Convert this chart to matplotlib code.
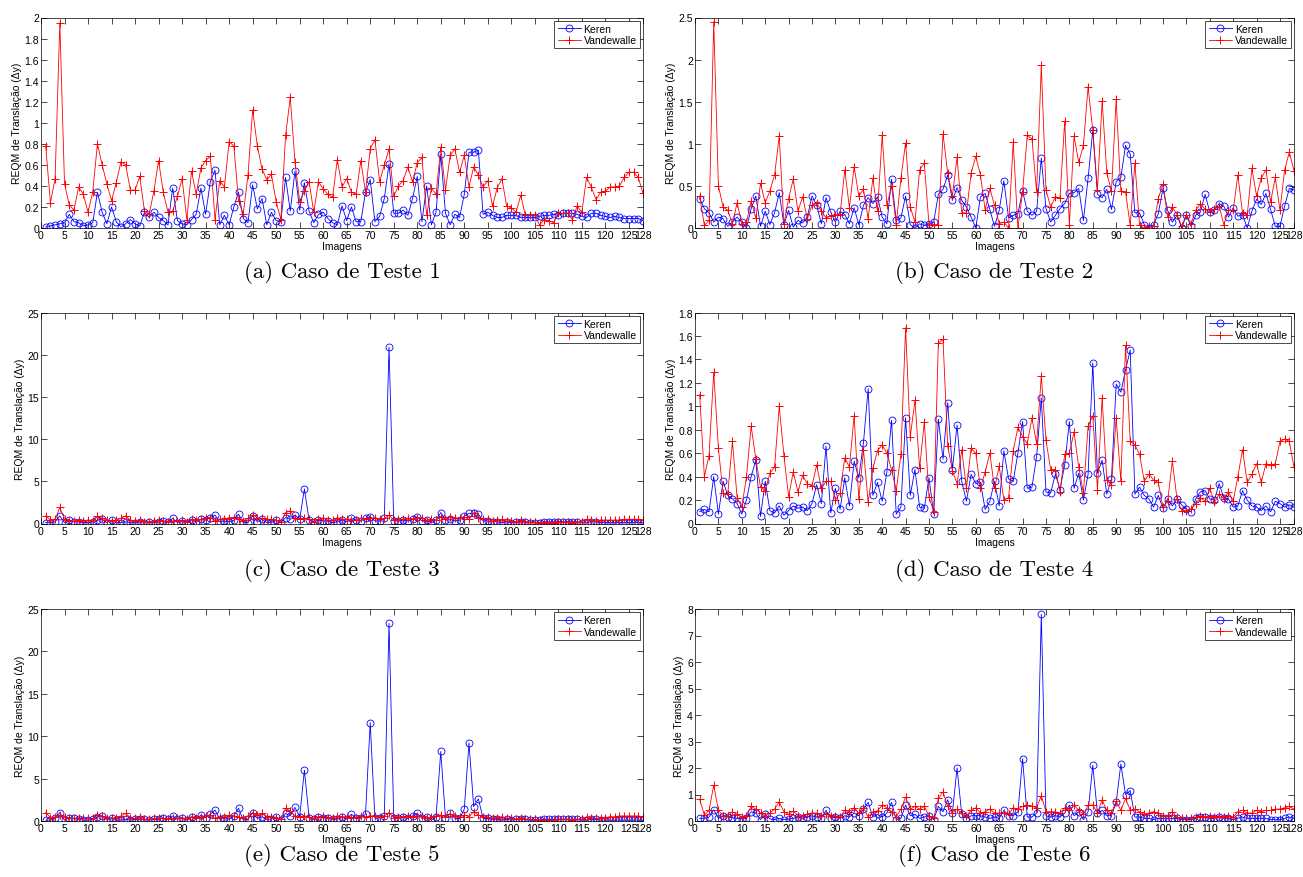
"""
REQM de Translação (Δy) - Keren vs Vandewalle, seis casos de teste.
"""

import matplotlib
matplotlib.use("Agg")
import matplotlib.pyplot as plt
from matplotlib.ticker import FormatStrFormatter


OUTPUT_FILE = "out.png"

IMAGENS = list(range(1, 129))
X_TICKS = list(range(0, 126, 5)) + [128]

CAPTIONS = ["(a) Caso de Teste 1", "(b) Caso de Teste 2", "(c) Caso de Teste 3",
            "(d) Caso de Teste 4", "(e) Caso de Teste 5", "(f) Caso de Teste 6"]

Y_LIMITS = [2, 2.5, 25, 1.8, 25, 8]
Y_STEPS = [0.2, 0.5, 5, 0.2, 5, 1]

# Caso de Teste 1
keren_1 = [
    0.01, 0.02, 0.03, 0.04, 0.05, 0.13, 0.06, 0.05, 0.02, 0.03,
    0.05, 0.34, 0.15, 0.04, 0.20, 0.06, 0.01, 0.04, 0.08, 0.04,
    0.02, 0.15, 0.10, 0.15, 0.10, 0.07, 0.03, 0.38, 0.07, 0.04,
    0.03, 0.08, 0.13, 0.38, 0.13, 0.44, 0.55, 0.03, 0.12, 0.03,
    0.20, 0.34, 0.09, 0.05, 0.41, 0.18, 0.28, 0.03, 0.15, 0.07,
    0.06, 0.48, 0.16, 0.54, 0.17, 0.43, 0.16, 0.05, 0.13, 0.15,
    0.09, 0.05, 0.03, 0.21, 0.07, 0.20, 0.06, 0.06, 0.34, 0.46,
    0.06, 0.11, 0.28, 0.61, 0.14, 0.14, 0.17, 0.12, 0.28, 0.49,
    0.06, 0.40, 0.03, 0.15, 0.70, 0.14, 0.03, 0.13, 0.10, 0.32,
    0.72, 0.72, 0.74, 0.13, 0.15, 0.12, 0.10, 0.10, 0.12, 0.12,
    0.12, 0.10, 0.10, 0.10, 0.10, 0.11, 0.12, 0.12, 0.13, 0.12,
    0.14, 0.14, 0.14, 0.13, 0.11, 0.10, 0.14, 0.14, 0.12, 0.11,
    0.10, 0.11, 0.10, 0.09, 0.09, 0.09, 0.09, 0.07,
]
vandewalle_1 = [
    0.78, 0.24, 0.47, 1.95, 0.42, 0.22, 0.17, 0.39, 0.32, 0.15,
    0.34, 0.80, 0.60, 0.42, 0.26, 0.43, 0.63, 0.60, 0.36, 0.36,
    0.49, 0.16, 0.13, 0.35, 0.64, 0.34, 0.15, 0.16, 0.30, 0.47,
    0.08, 0.54, 0.32, 0.57, 0.64, 0.68, 0.08, 0.45, 0.39, 0.82,
    0.78, 0.26, 0.13, 0.50, 1.12, 0.78, 0.56, 0.46, 0.51, 0.25,
    0.08, 0.88, 1.24, 0.63, 0.25, 0.35, 0.44, 0.15, 0.44, 0.37,
    0.32, 0.29, 0.65, 0.39, 0.47, 0.34, 0.32, 0.64, 0.34, 0.75,
    0.84, 0.44, 0.60, 0.75, 0.30, 0.40, 0.45, 0.58, 0.44, 0.62,
    0.67, 0.12, 0.38, 0.32, 0.77, 0.36, 0.69, 0.75, 0.53, 0.69,
    0.39, 0.58, 0.50, 0.39, 0.45, 0.21, 0.38, 0.47, 0.21, 0.19,
    0.15, 0.31, 0.12, 0.12, 0.12, 0.03, 0.08, 0.07, 0.05, 0.14,
    0.14, 0.14, 0.08, 0.21, 0.15, 0.48, 0.39, 0.27, 0.34, 0.35,
    0.39, 0.39, 0.40, 0.48, 0.53, 0.53, 0.48, 0.33,
]

# Caso de Teste 2
keren_2 = [
    0.35, 0.23, 0.18, 0.07, 0.13, 0.11, 0.02, 0.07, 0.13, 0.07,
    0.00, 0.23, 0.38, 0.02, 0.20, 0.04, 0.18, 0.42, 0.04, 0.21,
    0.01, 0.09, 0.06, 0.13, 0.38, 0.27, 0.05, 0.36, 0.19, 0.07,
    0.20, 0.16, 0.05, 0.24, 0.04, 0.27, 0.36, 0.29, 0.37, 0.13,
    0.05, 0.58, 0.09, 0.12, 0.38, 0.04, 0.00, 0.05, 0.03, 0.05,
    0.07, 0.40, 0.46, 0.63, 0.33, 0.48, 0.33, 0.25, 0.13, 0.00,
    0.37, 0.41, 0.22, 0.02, 0.21, 0.56, 0.12, 0.15, 0.17, 0.44,
    0.20, 0.15, 0.20, 0.83, 0.23, 0.07, 0.15, 0.23, 0.29, 0.41,
    0.42, 0.47, 0.09, 0.59, 1.16, 0.40, 0.36, 0.46, 0.22, 0.55,
    0.60, 0.98, 0.88, 0.18, 0.18, 0.04, 0.00, 0.04, 0.17, 0.47,
    0.21, 0.07, 0.15, 0.00, 0.15, 0.02, 0.15, 0.19, 0.40, 0.19,
    0.21, 0.29, 0.26, 0.13, 0.24, 0.14, 0.16, 0.00, 0.20, 0.34,
    0.28, 0.41, 0.22, 0.02, 0.02, 0.26, 0.47, 0.45,
]
vandewalle_2 = [
    0.38, 0.03, 0.09, 2.45, 0.50, 0.25, 0.21, 0.05, 0.30, 0.05,
    0.07, 0.32, 0.12, 0.53, 0.30, 0.44, 0.63, 1.09, 0.05, 0.35,
    0.58, 0.20, 0.37, 0.11, 0.27, 0.30, 0.20, 0.12, 0.14, 0.16,
    0.16, 0.69, 0.24, 0.73, 0.38, 0.46, 0.11, 0.59, 0.20, 1.10,
    0.27, 0.50, 0.04, 0.59, 1.01, 0.25, 0.07, 0.69, 0.77, 0.04,
    0.04, 0.04, 1.12, 0.65, 0.38, 0.84, 0.18, 0.18, 0.65, 0.85,
    0.63, 0.21, 0.47, 0.27, 0.05, 0.07, 0.00, 1.02, 0.00, 0.43,
    1.10, 1.06, 0.43, 1.93, 0.45, 0.25, 0.37, 0.36, 1.27, 0.04,
    1.09, 0.78, 0.98, 1.68, 1.16, 0.45, 1.51, 0.65, 0.44, 1.53,
    0.44, 0.43, 0.03, 0.77, 0.03, 0.00, 0.02, 0.02, 0.35, 0.52,
    0.13, 0.25, 0.16, 0.02, 0.16, 0.05, 0.21, 0.29, 0.22, 0.19,
    0.23, 0.26, 0.04, 0.21, 0.21, 0.63, 0.18, 0.15, 0.71, 0.38,
    0.59, 0.69, 0.31, 0.60, 0.21, 0.69, 0.90, 0.68,
]

# Caso de Teste 3
keren_3 = [
    0.1, 0.1, 0.2, 0.9, 0.1, 0.4, 0.2, 0.2, 0.1, 0.1,
    0.2, 0.4, 0.5, 0.1, 0.4, 0.1, 0.1, 0.2, 0.1, 0.1,
    0.2, 0.1, 0.2, 0.1, 0.2, 0.3, 0.2, 0.6, 0.1, 0.3,
    0.1, 0.4, 0.2, 0.5, 0.4, 0.7, 1.0, 0.2, 0.3, 0.2,
    0.4, 1.1, 0.1, 0.1, 0.9, 0.2, 0.5, 0.1, 0.1, 0.4,
    0.1, 0.7, 0.5, 1.0, 0.5, 4.1, 0.4, 0.2, 0.4, 0.3,
    0.3, 0.1, 0.2, 0.4, 0.2, 0.6, 0.4, 0.3, 0.6, 0.8,
    0.3, 0.3, 0.6, 20.9, 0.3, 0.3, 0.4, 0.3, 0.5, 0.8,
    0.3, 0.4, 0.1, 0.4, 1.3, 0.4, 0.5, 0.3, 0.4, 0.9,
    1.2, 1.2, 1.1, 0.3, 0.3, 0.2, 0.2, 0.1, 0.2, 0.1,
    0.2, 0.2, 0.2, 0.1, 0.1, 0.1, 0.2, 0.2, 0.2, 0.2,
    0.2, 0.2, 0.2, 0.2, 0.1, 0.1, 0.2, 0.2, 0.1, 0.1,
    0.1, 0.1, 0.1, 0.1, 0.1, 0.1, 0.1, 0.1,
]
vandewalle_3 = [
    0.9, 0.4, 0.5, 1.9, 0.5, 0.3, 0.3, 0.4, 0.3, 0.4,
    0.3, 0.9, 0.6, 0.4, 0.3, 0.4, 0.6, 0.9, 0.4, 0.3,
    0.4, 0.2, 0.2, 0.3, 0.4, 0.3, 0.2, 0.3, 0.3, 0.4,
    0.2, 0.5, 0.4, 0.5, 0.6, 0.7, 0.3, 0.5, 0.5, 0.7,
    0.7, 0.5, 0.3, 0.6, 1.0, 0.7, 0.6, 0.5, 0.5, 0.4,
    0.2, 1.3, 1.5, 0.7, 0.5, 0.6, 0.5, 0.2, 0.5, 0.6,
    0.4, 0.4, 0.7, 0.5, 0.5, 0.4, 0.4, 0.6, 0.5, 0.6,
    0.7, 0.5, 0.6, 1.0, 0.4, 0.5, 0.5, 0.6, 0.5, 0.7,
    0.7, 0.3, 0.5, 0.4, 0.8, 0.5, 0.8, 0.7, 0.6, 0.8,
    0.5, 1.2, 0.7, 0.5, 0.5, 0.3, 0.4, 0.5, 0.3, 0.3,
    0.2, 0.4, 0.2, 0.2, 0.2, 0.1, 0.1, 0.1, 0.1, 0.2,
    0.2, 0.2, 0.1, 0.2, 0.2, 0.5, 0.4, 0.3, 0.4, 0.4,
    0.4, 0.4, 0.4, 0.5, 0.5, 0.5, 0.5, 0.4,
]

# Caso de Teste 4
keren_4 = [
    0.10, 0.12, 0.10, 0.40, 0.08, 0.36, 0.24, 0.21, 0.17, 0.08,
    0.20, 0.40, 0.54, 0.06, 0.36, 0.11, 0.09, 0.15, 0.07, 0.11,
    0.15, 0.13, 0.14, 0.11, 0.17, 0.33, 0.17, 0.66, 0.09, 0.30,
    0.12, 0.39, 0.15, 0.53, 0.39, 0.69, 1.15, 0.24, 0.35, 0.19,
    0.44, 0.88, 0.08, 0.14, 0.90, 0.24, 0.46, 0.14, 0.13, 0.39,
    0.08, 0.89, 0.55, 1.03, 0.46, 0.84, 0.36, 0.19, 0.42, 0.34,
    0.35, 0.12, 0.19, 0.36, 0.15, 0.62, 0.38, 0.36, 0.60, 0.87,
    0.30, 0.31, 0.57, 1.07, 0.27, 0.26, 0.42, 0.29, 0.50, 0.87,
    0.30, 0.43, 0.20, 0.42, 1.37, 0.43, 0.54, 0.25, 0.38, 1.19,
    1.12, 1.31, 1.48, 0.25, 0.31, 0.24, 0.21, 0.14, 0.24, 0.13,
    0.21, 0.15, 0.21, 0.16, 0.12, 0.10, 0.21, 0.27, 0.28, 0.21,
    0.20, 0.34, 0.22, 0.21, 0.14, 0.15, 0.28, 0.20, 0.15, 0.14,
    0.11, 0.15, 0.10, 0.19, 0.17, 0.14, 0.16, 0.14,
]
vandewalle_4 = [
    1.10, 0.40, 0.58, 1.29, 0.64, 0.26, 0.25, 0.70, 0.22, 0.14,
    0.40, 0.83, 0.55, 0.31, 0.28, 0.43, 0.48, 1.00, 0.58, 0.23,
    0.44, 0.27, 0.41, 0.34, 0.32, 0.50, 0.30, 0.36, 0.36, 0.20,
    0.26, 0.56, 0.48, 0.92, 0.21, 0.63, 0.18, 0.47, 0.62, 0.67,
    0.60, 0.46, 0.28, 0.59, 1.67, 0.74, 1.05, 0.47, 0.87, 0.23,
    0.10, 1.54, 1.57, 0.66, 0.45, 0.34, 0.63, 0.30, 0.64, 0.60,
    0.30, 0.44, 0.60, 0.30, 0.49, 0.20, 0.22, 0.62, 0.82, 0.74,
    0.68, 0.90, 0.68, 1.26, 0.71, 0.46, 0.46, 0.27, 0.59, 0.60,
    0.78, 0.48, 0.26, 0.83, 0.92, 0.29, 1.07, 0.37, 0.33, 0.90,
    0.36, 1.52, 0.70, 0.67, 0.59, 0.36, 0.42, 0.37, 0.35, 0.14,
    0.19, 0.53, 0.21, 0.11, 0.11, 0.12, 0.17, 0.22, 0.19, 0.30,
    0.18, 0.25, 0.21, 0.27, 0.19, 0.40, 0.63, 0.35, 0.42, 0.51,
    0.35, 0.51, 0.50, 0.51, 0.70, 0.72, 0.70, 0.48,
]

# Caso de Teste 5
keren_5 = [
    0.1, 0.1, 0.3, 1.0, 0.1, 0.4, 0.3, 0.2, 0.1, 0.1,
    0.2, 0.5, 0.6, 0.1, 0.4, 0.1, 0.1, 0.2, 0.1, 0.2,
    0.2, 0.2, 0.1, 0.2, 0.2, 0.3, 0.2, 0.6, 0.2, 0.4,
    0.1, 0.5, 0.2, 0.7, 0.4, 0.8, 1.3, 0.2, 0.4, 0.2,
    0.6, 1.5, 0.1, 0.2, 1.0, 0.3, 0.5, 0.2, 0.2, 0.5,
    0.1, 0.9, 0.6, 1.6, 0.5, 6.0, 0.4, 0.2, 0.5, 0.4,
    0.4, 0.2, 0.2, 0.5, 0.2, 0.8, 0.4, 0.4, 0.8, 11.6,
    0.3, 0.4, 0.6, 23.3, 0.4, 0.3, 0.5, 0.3, 0.6, 0.9,
    0.3, 0.5, 0.1, 0.5, 8.2, 0.4, 0.9, 0.3, 0.3, 1.4,
    9.2, 1.7, 2.6, 0.3, 0.3, 0.2, 0.2, 0.1, 0.2, 0.1,
    0.2, 0.2, 0.2, 0.1, 0.1, 0.1, 0.2, 0.2, 0.2, 0.2,
    0.2, 0.2, 0.2, 0.2, 0.1, 0.1, 0.2, 0.2, 0.1, 0.1,
    0.1, 0.1, 0.1, 0.1, 0.1, 0.1, 0.1, 0.1,
]
vandewalle_5 = [
    1.0, 0.4, 0.5, 0.7, 0.5, 0.3, 0.3, 0.4, 0.3, 0.3,
    0.3, 0.7, 0.6, 0.4, 0.3, 0.4, 0.6, 0.9, 0.4, 0.3,
    0.5, 0.2, 0.2, 0.3, 0.4, 0.3, 0.2, 0.3, 0.3, 0.4,
    0.2, 0.5, 0.4, 0.5, 0.6, 0.7, 0.3, 0.5, 0.5, 0.7,
    0.6, 0.5, 0.3, 0.6, 0.9, 0.7, 0.9, 0.5, 0.5, 0.4,
    0.2, 1.5, 1.2, 0.6, 0.5, 0.6, 0.5, 0.2, 0.5, 0.6,
    0.4, 0.4, 0.6, 0.5, 0.5, 0.4, 0.4, 0.6, 0.5, 0.6,
    0.6, 0.5, 0.6, 1.0, 0.4, 0.5, 0.5, 0.6, 0.5, 0.6,
    0.6, 0.3, 0.5, 0.6, 0.7, 0.5, 0.8, 0.6, 0.5, 0.7,
    0.5, 1.1, 0.7, 0.5, 0.5, 0.3, 0.4, 0.5, 0.3, 0.3,
    0.2, 0.4, 0.2, 0.2, 0.2, 0.1, 0.1, 0.1, 0.1, 0.2,
    0.2, 0.2, 0.1, 0.2, 0.2, 0.5, 0.4, 0.3, 0.4, 0.4,
    0.5, 0.5, 0.6, 0.6, 0.6, 0.6, 0.6, 0.5,
]

# Caso de Teste 6
keren_6 = [
    0.10, 0.10, 0.15, 0.42, 0.10, 0.20, 0.15, 0.12, 0.10, 0.08,
    0.10, 0.35, 0.30, 0.05, 0.25, 0.08, 0.05, 0.10, 0.05, 0.08,
    0.10, 0.15, 0.10, 0.15, 0.20, 0.15, 0.10, 0.40, 0.10, 0.15,
    0.10, 0.20, 0.15, 0.30, 0.20, 0.45, 0.70, 0.15, 0.25, 0.15,
    0.30, 0.70, 0.05, 0.10, 0.60, 0.20, 0.25, 0.10, 0.15, 0.20,
    0.05, 0.55, 0.35, 0.80, 0.30, 2.00, 0.25, 0.10, 0.20, 0.20,
    0.20, 0.15, 0.10, 0.15, 0.10, 0.40, 0.20, 0.20, 0.35, 2.35,
    0.15, 0.15, 0.30, 7.80, 0.20, 0.15, 0.20, 0.15, 0.30, 0.60,
    0.20, 0.35, 0.05, 0.35, 2.10, 0.30, 0.40, 0.20, 0.20, 0.70,
    2.15, 1.00, 1.15, 0.15, 0.15, 0.10, 0.10, 0.05, 0.10, 0.10,
    0.10, 0.10, 0.10, 0.05, 0.05, 0.05, 0.10, 0.15, 0.15, 0.10,
    0.10, 0.15, 0.10, 0.10, 0.05, 0.10, 0.15, 0.10, 0.10, 0.10,
    0.10, 0.10, 0.05, 0.05, 0.05, 0.10, 0.15, 0.10,
]
vandewalle_6 = [
    0.82, 0.22, 0.40, 1.35, 0.40, 0.20, 0.20, 0.35, 0.25, 0.15,
    0.20, 0.55, 0.45, 0.30, 0.20, 0.30, 0.45, 0.72, 0.35, 0.25,
    0.38, 0.20, 0.20, 0.25, 0.30, 0.30, 0.20, 0.25, 0.20, 0.20,
    0.15, 0.40, 0.35, 0.50, 0.30, 0.50, 0.15, 0.35, 0.38, 0.60,
    0.50, 0.35, 0.15, 0.45, 0.90, 0.45, 0.55, 0.45, 0.55, 0.20,
    0.10, 0.85, 1.10, 0.55, 0.30, 0.45, 0.30, 0.20, 0.40, 0.50,
    0.30, 0.35, 0.45, 0.30, 0.30, 0.30, 0.25, 0.50, 0.45, 0.55,
    0.60, 0.55, 0.50, 0.95, 0.35, 0.35, 0.35, 0.30, 0.50, 0.40,
    0.60, 0.40, 0.25, 0.60, 0.60, 0.30, 0.80, 0.40, 0.30, 0.75,
    0.40, 0.85, 0.40, 0.45, 0.35, 0.25, 0.30, 0.35, 0.30, 0.20,
    0.20, 0.35, 0.15, 0.10, 0.10, 0.10, 0.15, 0.20, 0.15, 0.20,
    0.15, 0.20, 0.15, 0.20, 0.15, 0.35, 0.40, 0.30, 0.30, 0.40,
    0.35, 0.40, 0.40, 0.45, 0.45, 0.50, 0.55, 0.45,
]

KEREN = [keren_1, keren_2, keren_3, keren_4, keren_5, keren_6]
VANDEWALLE = [vandewalle_1, vandewalle_2, vandewalle_3,
              vandewalle_4, vandewalle_5, vandewalle_6]

# axes boxes in pixels (left, top, right, bottom) of the 1303x878 figure
FIG_W, FIG_H = 1303, 878
COLS = [(41, 643), (695, 1294)]
ROWS = [(18.5, 229), (313.5, 524.5), (610, 822)]
CAPTION_Y = [273, 570, 856]

SMALL = 7.5


def axes_rect(row: int, col: int) -> list:
    """Convert pixel box to figure fractions."""
    x0, x1 = COLS[col]
    y0, y1 = ROWS[row]
    return [x0 / FIG_W, 1 - y1 / FIG_H, (x1 - x0) / FIG_W, (y1 - y0) / FIG_H]


def draw_panel(ax, idx: int) -> None:
    """One test case: Keren (blue circles) and Vandewalle (red crosses)."""
    ax.plot(IMAGENS, KEREN[idx], color="#0000ff", lw=0.6, marker="o",
            markersize=5, mfc="none", mew=0.6, label="Keren")
    ax.plot(IMAGENS, VANDEWALLE[idx], color="#ff0000", lw=0.6, marker="+",
            markersize=6, mew=0.7, label="Vandewalle")

    ymax = Y_LIMITS[idx]
    step = Y_STEPS[idx]
    n = int(round(ymax / step))
    ax.set_xlim(0, 128)
    ax.set_ylim(0, ymax)
    ax.set_xticks(X_TICKS)
    ax.set_yticks([round(k * step, 2) for k in range(n + 1)])
    ax.yaxis.set_major_formatter(FormatStrFormatter("%g"))

    ax.tick_params(direction="in", top=True, right=True, length=4,
                   width=0.5, labelsize=SMALL, pad=1.5)
    for spine in ax.spines.values():
        spine.set_linewidth(0.5)

    ax.set_xlabel("Imagens", fontsize=SMALL, labelpad=1)
    ax.set_ylabel("REQM de Translação (Δy)", fontsize=SMALL, labelpad=2)

    leg = ax.legend(loc="upper right", fontsize=SMALL, fancybox=False,
                    framealpha=1, edgecolor="black", borderaxespad=0.3,
                    handlelength=2.2, handletextpad=0.3, borderpad=0.3,
                    labelspacing=0.15)
    leg.get_frame().set_linewidth(0.5)


def main() -> None:
    plt.rcParams["font.family"] = ["Liberation Sans", "DejaVu Sans"]
    fig = plt.figure(figsize=(FIG_W / 100, FIG_H / 100), dpi=100)

    for idx in range(6):
        row, col = divmod(idx, 2)
        ax = fig.add_axes(axes_rect(row, col))
        draw_panel(ax, idx)

        x0, x1 = COLS[col]
        fig.text((x0 + x1) / 2 / FIG_W, 1 - CAPTION_Y[row] / FIG_H,
                 CAPTIONS[idx], ha="center", va="center",
                 family="cmr10", fontsize=16.5)

    fig.savefig(OUTPUT_FILE, dpi=100)
    plt.close(fig)


if __name__ == "__main__":
    main()
